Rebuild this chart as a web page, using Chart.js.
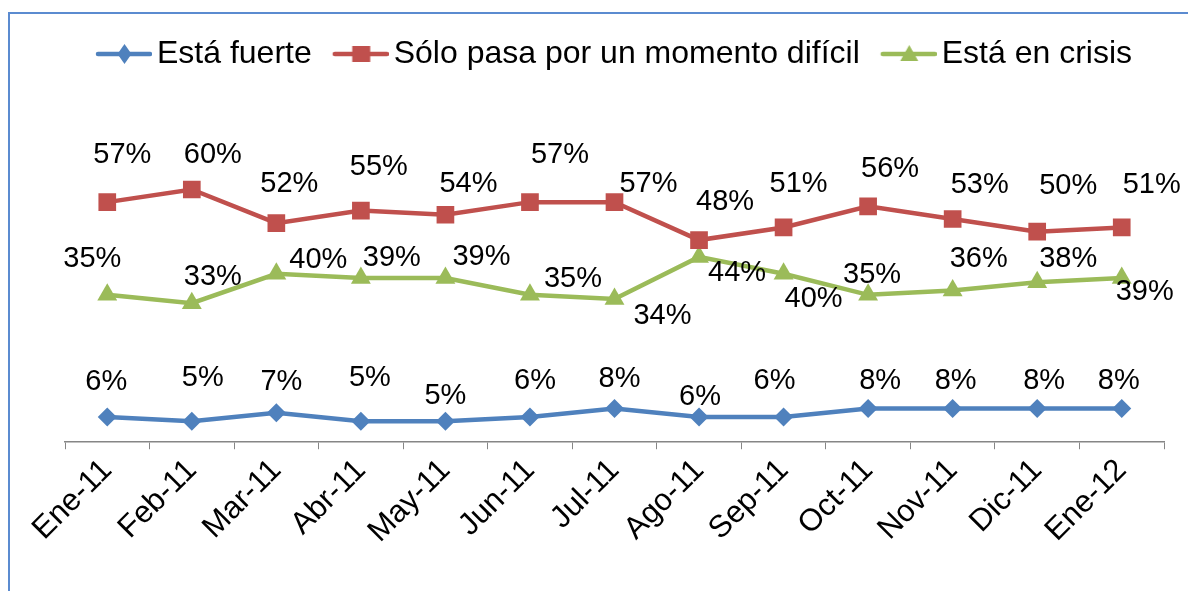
<!DOCTYPE html>
<html>
<head>
<meta charset="utf-8">
<script src="https://cdn.jsdelivr.net/npm/chart.js@4.4.1/dist/chart.umd.min.js"></script>
<style>
    html, body { margin: 0; padding: 0; background: #fff; }
    #wrap { position: relative; width: 1188px; height: 591px; }
    #frame {
        position: absolute; left: 8px; top: 12px; right: 0; bottom: 0;
        border-top: 2px solid #5b8bd0; border-left: 2px solid #5b8bd0;
        pointer-events: none;
    }
</style>
</head>
<body>
<div id="wrap">
    <canvas id="chart" width="1188" height="591"></canvas>
    <div id="frame"></div>
</div>
<script>
// Chart data
const months = ['Ene-11', 'Feb-11', 'Mar-11', 'Abr-11', 'May-11', 'Jun-11', 'Jul-11',
                'Ago-11', 'Sep-11', 'Oct-11', 'Nov-11', 'Dic-11', 'Ene-12'];
const seriesNames = ['Está fuerte', 'Sólo pasa por un momento difícil', 'Está en crisis'];
const fuerte  = [6, 5, 7, 5, 5, 6, 8, 6, 6, 8, 8, 8, 8];
const dificil = [57, 60, 52, 55, 54, 57, 57, 48, 51, 56, 53, 50, 51];
const crisis  = [35, 33, 40, 39, 39, 35, 34, 44, 40, 35, 36, 38, 39];

const colors = ['#4f81bd', '#c0504d', '#9bbb59'];
const FONT = '"Liberation Sans", Arial, sans-serif';

// Where each value label sits relative to its point (dx, dy in px)
const labelOffsets = [
    [[-1,-35],[11,-43],[5,-31],[9,-43],[0,-25],[5,-36],[5,-30],[1,-20],[-9,-36],[12,-28],[3,-28],[7,-28],[-3,-28]],
    [[15,-47],[21,-35],[13,-39],[18,-44],[23,-31],[30,-47],[34,-18],[26,-38],[15,-43],[22,-37],[27,-34],[31,-46],[30,-42]],
    [[-15,-36],[21,-26],[42,-14],[31,-20],[36,-21],[43,-16],[48,17],[38,16],[30,25],[4,-20],[26,-32],[31,-23],[23,14]]
];

// Legend icons: a short line with the marker in the middle, Excel style
function makeIcon(color, shape) {
    const c = document.createElement('canvas');
    c.width = 66; c.height = 32;
    const g = c.getContext('2d');
    const cx = 38.5, cy = 16;
    g.strokeStyle = color;
    g.lineWidth = 4.5;
    g.lineCap = 'round';
    g.beginPath(); g.moveTo(12, cy); g.lineTo(64, cy); g.stroke();
    g.fillStyle = color;
    g.beginPath();
    if (shape === 'diamond') {
        g.moveTo(cx, cy - 10); g.lineTo(cx + 7, cy); g.lineTo(cx, cy + 10); g.lineTo(cx - 7, cy);
    } else if (shape === 'square') {
        g.rect(cx - 9, cy - 8, 18, 16);
    } else {
        g.moveTo(cx, cy - 9); g.lineTo(cx + 9, cy + 7); g.lineTo(cx - 9, cy + 7);
    }
    g.closePath(); g.fill();
    return c;
}
const icons = [makeIcon(colors[0], 'diamond'), makeIcon(colors[1], 'square'), makeIcon(colors[2], 'triangle')];

// Value labels drawn next to each point
const valueLabels = {
    id: 'valueLabels',
    afterDatasetsDraw(chart) {
        const ctx = chart.ctx;
        ctx.save();
        ctx.font = '29px ' + FONT;
        ctx.fillStyle = '#000';
        ctx.textAlign = 'center';
        ctx.textBaseline = 'middle';
        chart.data.datasets.forEach((ds, i) => {
            const meta = chart.getDatasetMeta(i);
            meta.data.forEach((pt, j) => {
                const off = labelOffsets[i][j];
                ctx.fillText(ds.data[j] + '%', pt.x + off[0], pt.y + off[1]);
            });
        });
        ctx.restore();
    }
};

function series(i, data, style, radius) {
    return {
        label: seriesNames[i],
        data: data,
        borderColor: colors[i],
        backgroundColor: colors[i],
        borderWidth: 4.5,
        pointStyle: style,
        pointRadius: radius,
        pointHoverRadius: radius,
        pointBorderWidth: 0,
        tension: 0
    };
}

const chart = new Chart(document.getElementById('chart').getContext('2d'), {
    type: 'line',
    data: {
        labels: months,
        datasets: [
            series(0, fuerte, 'rectRot', 9.5),
            series(1, dificil, 'rect', 12.5),
            series(2, crisis, 'triangle', 11.5)
        ]
    },
    options: {
        responsive: false,
        animation: false,
        devicePixelRatio: 1,
        layout: { padding: { top: 16, left: 65, right: 24, bottom: 38 } },
        plugins: {
            tooltip: { enabled: false },
            legend: {
                display: true,
                position: 'top',
                labels: {
                    usePointStyle: true,
                    pointStyleWidth: 44,
                    padding: 22,
                    color: '#000',
                    font: { size: 32, family: FONT },
                    generateLabels(chart) {
                        const items = Chart.defaults.plugins.legend.labels.generateLabels(chart);
                        items.forEach((it, k) => { it.pointStyle = icons[k]; });
                        return items;
                    }
                }
            }
        },
        scales: {
            x: {
                offset: true,
                grid: {
                    offset: true,
                    drawOnChartArea: false,
                    drawTicks: true,
                    tickLength: 7,
                    color: '#868686'
                },
                border: { color: '#868686', width: 1.5 },
                ticks: {
                    color: '#000',
                    font: { size: 31, family: FONT },
                    minRotation: 45,
                    maxRotation: 45,
                    autoSkip: false
                }
            },
            y: {
                display: false,
                min: 0,
                max: 86
            }
        }
    },
    plugins: [valueLabels]
});
</script>
</body>
</html>
